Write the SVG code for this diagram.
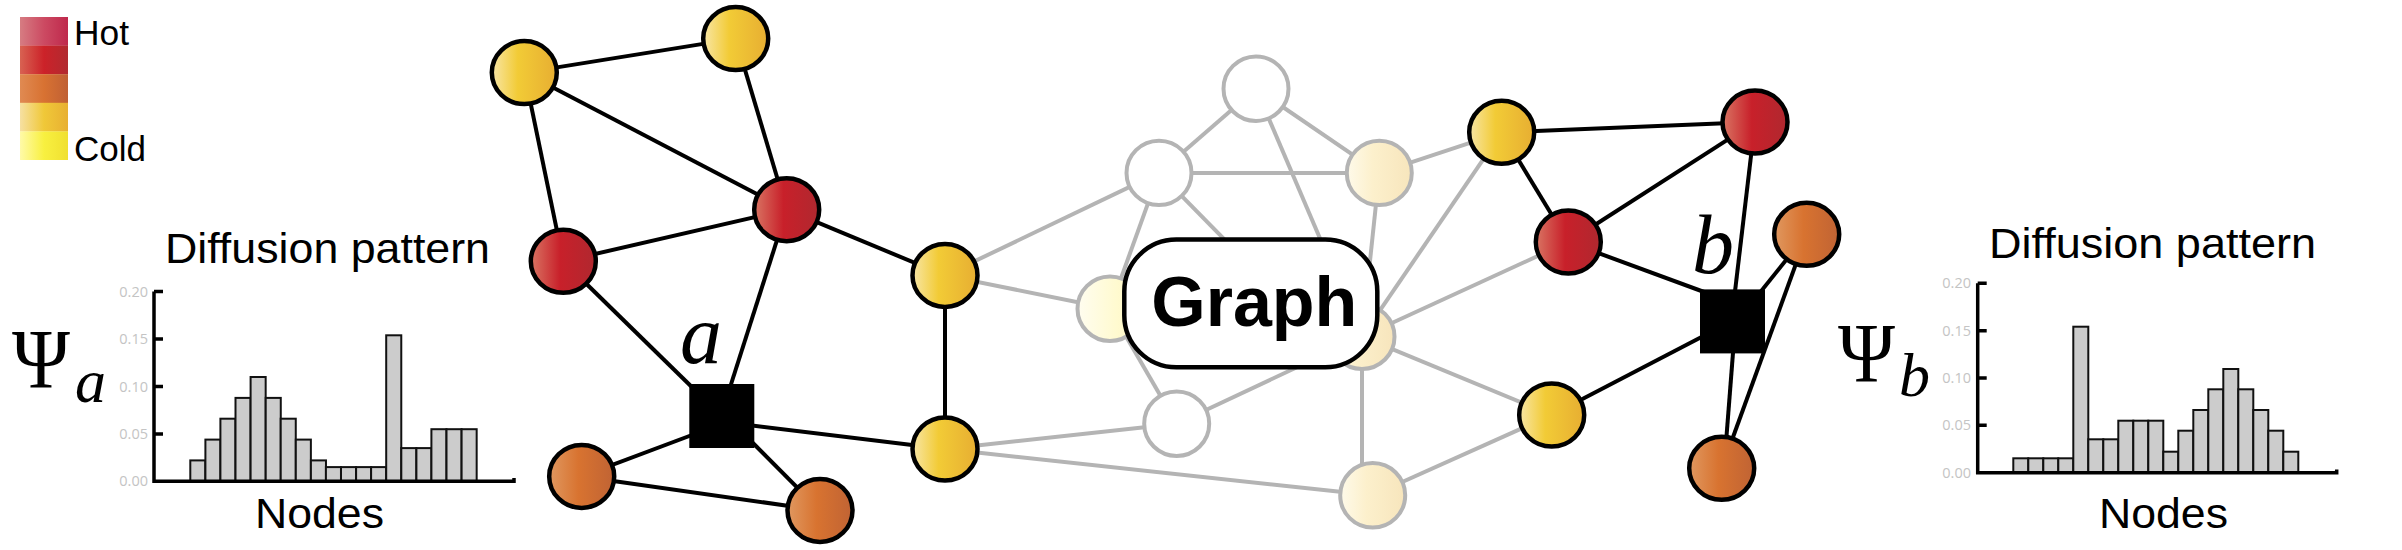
<svg xmlns="http://www.w3.org/2000/svg" width="2402" height="550" viewBox="0 0 2402 550">
<style>
.ge{stroke:#b4b4b4;stroke-width:4;fill:none}
.be{stroke:#000;stroke-width:4;fill:none}
.nd{stroke:#000;stroke-width:4.5}
.gn{stroke:#b4b4b4;stroke-width:4}
.bar{fill:#cccccc;stroke:#111;stroke-width:2}
.axis{fill:none;stroke:#000;stroke-width:3.5}
.tick{font-family:'Open Sans','Liberation Sans',sans-serif;font-size:14.5px;fill:#c4c4c4;text-anchor:end}
.sans{font-family:'Liberation Sans',Arial,sans-serif;fill:#000}
.serif{font-family:'Liberation Serif','Times New Roman',serif;fill:#000}
</style>
<defs>
<linearGradient id="gY" x1="0" x2="1" y1="0" y2="0"><stop offset="0" stop-color="#f8e6a6"/><stop offset="0.4" stop-color="#f2cb36"/><stop offset="1" stop-color="#e7ae32"/></linearGradient>
<linearGradient id="gR" x1="0" x2="1" y1="0" y2="0"><stop offset="0" stop-color="#d97563"/><stop offset="0.45" stop-color="#c8202a"/><stop offset="1" stop-color="#b0282f"/></linearGradient>
<linearGradient id="gO" x1="0" x2="1" y1="0" y2="0"><stop offset="0" stop-color="#e09860"/><stop offset="0.45" stop-color="#d87330"/><stop offset="1" stop-color="#c06334"/></linearGradient>
<linearGradient id="gC" x1="0" x2="1" y1="0" y2="0"><stop offset="0" stop-color="#fefaea"/><stop offset="0.4" stop-color="#fcf0cc"/><stop offset="1" stop-color="#f7e5bc"/></linearGradient>
<linearGradient id="gP" x1="0" x2="1" y1="0" y2="0"><stop offset="0" stop-color="#fffdf0"/><stop offset="0.6" stop-color="#fffad0"/><stop offset="1" stop-color="#fdf4c0"/></linearGradient>
<linearGradient id="l1" x1="0" x2="1" y1="0" y2="0"><stop offset="0" stop-color="#d67c82"/><stop offset="0.5" stop-color="#cc4a62"/><stop offset="1" stop-color="#bf284c"/></linearGradient>
<linearGradient id="l2" x1="0" x2="1" y1="0" y2="0"><stop offset="0" stop-color="#d86252"/><stop offset="0.5" stop-color="#cc2229"/><stop offset="1" stop-color="#b12a30"/></linearGradient>
<linearGradient id="l3" x1="0" x2="1" y1="0" y2="0"><stop offset="0" stop-color="#e08a52"/><stop offset="0.5" stop-color="#d87232"/><stop offset="1" stop-color="#c06034"/></linearGradient>
<linearGradient id="l4" x1="0" x2="1" y1="0" y2="0"><stop offset="0" stop-color="#f6e0a2"/><stop offset="0.5" stop-color="#f0c838"/><stop offset="1" stop-color="#e8b032"/></linearGradient>
<linearGradient id="l5" x1="0" x2="1" y1="0" y2="0"><stop offset="0" stop-color="#fffaa8"/><stop offset="0.5" stop-color="#f8f040"/><stop offset="1" stop-color="#f0e030"/></linearGradient>
</defs>

<g id="legend">
<rect x="20" y="17" width="48" height="28.8" fill="url(#l1)"/>
<rect x="20" y="45.6" width="48" height="28.8" fill="url(#l2)"/>
<rect x="20" y="74.2" width="48" height="28.8" fill="url(#l3)"/>
<rect x="20" y="102.8" width="48" height="28.8" fill="url(#l4)"/>
<rect x="20" y="131.4" width="48" height="28.6" fill="url(#l5)"/>
<text class="sans" x="74" y="45" font-size="35" textLength="55" lengthAdjust="spacingAndGlyphs">Hot</text>
<text class="sans" x="74" y="161" font-size="35" textLength="72" lengthAdjust="spacingAndGlyphs">Cold</text>
</g>

<g id="chart-a">
<text class="sans" x="165" y="262.5" font-size="42" textLength="325" lengthAdjust="spacingAndGlyphs">Diffusion pattern</text>
<text class="serif" x="12" y="388.3" font-size="84" textLength="58" lengthAdjust="spacingAndGlyphs">Ψ</text>
<text class="serif" x="75" y="402" font-size="62" font-style="italic">a</text>
<text class="tick" x="148" y="296.5">0.20</text>
<text class="tick" x="148" y="344">0.15</text>
<text class="tick" x="148" y="391.5">0.10</text>
<text class="tick" x="148" y="439">0.05</text>
<text class="tick" x="148" y="486.3">0.00</text>
<g>
<rect class="bar" x="190.3" y="460.4" width="15.07" height="20.9"/>
<rect class="bar" x="205.4" y="439.6" width="15.07" height="41.7"/>
<rect class="bar" x="220.4" y="418.7" width="15.07" height="62.6"/>
<rect class="bar" x="235.5" y="397.9" width="15.07" height="83.4"/>
<rect class="bar" x="250.6" y="377.0" width="15.07" height="104.3"/>
<rect class="bar" x="265.7" y="397.9" width="15.07" height="83.4"/>
<rect class="bar" x="280.7" y="418.7" width="15.07" height="62.6"/>
<rect class="bar" x="295.8" y="439.6" width="15.07" height="41.7"/>
<rect class="bar" x="310.9" y="460.4" width="15.07" height="20.9"/>
<rect class="bar" x="325.9" y="467.1" width="15.07" height="14.2"/>
<rect class="bar" x="341.0" y="467.1" width="15.07" height="14.2"/>
<rect class="bar" x="356.1" y="467.1" width="15.07" height="14.2"/>
<rect class="bar" x="371.1" y="467.1" width="15.07" height="14.2"/>
<rect class="bar" x="386.2" y="335.3" width="15.07" height="146"/>
<rect class="bar" x="401.3" y="448.1" width="15.07" height="33.2"/>
<rect class="bar" x="416.4" y="448.1" width="15.07" height="33.2"/>
<rect class="bar" x="431.4" y="429.2" width="15.07" height="52.1"/>
<rect class="bar" x="446.5" y="429.2" width="15.07" height="52.1"/>
<rect class="bar" x="461.6" y="429.2" width="15.07" height="52.1"/>
</g>
<path class="axis" d="M154,291.5 V481.3 H514 V478 M154,291.5 h9 M154,339 h9 M154,386.5 h9 M154,434 h9"/>
<text class="sans" x="255" y="528" font-size="42" textLength="129" lengthAdjust="spacingAndGlyphs">Nodes</text>
</g>

<g id="chart-b">
<text class="sans" x="1989" y="257.7" font-size="42" textLength="327" lengthAdjust="spacingAndGlyphs">Diffusion pattern</text>
<text class="serif" x="1838" y="382" font-size="84" textLength="57" lengthAdjust="spacingAndGlyphs">Ψ</text>
<text class="serif" x="1899" y="395.7" font-size="62" font-style="italic">b</text>
<text class="tick" x="1971" y="288.3">0.20</text>
<text class="tick" x="1971" y="335.7">0.15</text>
<text class="tick" x="1971" y="383">0.10</text>
<text class="tick" x="1971" y="430.3">0.05</text>
<text class="tick" x="1971" y="477.7">0.00</text>
<g>
<rect class="bar" x="2013.3" y="458.3" width="15" height="14.4"/>
<rect class="bar" x="2028.3" y="458.3" width="15" height="14.4"/>
<rect class="bar" x="2043.3" y="458.3" width="15" height="14.4"/>
<rect class="bar" x="2058.3" y="458.3" width="15" height="14.4"/>
<rect class="bar" x="2073.3" y="326.7" width="15" height="146"/>
<rect class="bar" x="2088.3" y="439.3" width="15" height="33.4"/>
<rect class="bar" x="2103.3" y="439.3" width="15" height="33.4"/>
<rect class="bar" x="2118.3" y="420.7" width="15" height="52"/>
<rect class="bar" x="2133.3" y="420.7" width="15" height="52"/>
<rect class="bar" x="2148.3" y="420.7" width="15" height="52"/>
<rect class="bar" x="2163.3" y="451.7" width="15" height="21"/>
<rect class="bar" x="2178.3" y="430.7" width="15" height="42"/>
<rect class="bar" x="2193.3" y="410" width="15" height="62.7"/>
<rect class="bar" x="2208.3" y="389.3" width="15" height="83.4"/>
<rect class="bar" x="2223.3" y="369" width="15" height="103.7"/>
<rect class="bar" x="2238.3" y="389.3" width="15" height="83.4"/>
<rect class="bar" x="2253.3" y="410" width="15" height="62.7"/>
<rect class="bar" x="2268.3" y="430.7" width="15" height="42"/>
<rect class="bar" x="2283.3" y="451.7" width="15" height="21"/>
</g>
<path class="axis" d="M1977.7,283.3 V472.7 H2336.7 V469.5 M1977.7,283.3 h9 M1977.7,330.7 h9 M1977.7,378 h9 M1977.7,425.3 h9"/>
<text class="sans" x="2099" y="528.3" font-size="42" textLength="129" lengthAdjust="spacingAndGlyphs">Nodes</text>
</g>

<g id="connectors">
<g class="ge">
<line x1="945" y1="275.4" x2="1159" y2="172.9"/>
<line x1="945" y1="275.4" x2="1110" y2="308.7"/>
<line x1="945" y1="449" x2="1176.7" y2="423.7"/>
<line x1="945" y1="449" x2="1372.7" y2="495.3"/>
<line x1="1256" y1="88.7" x2="1159" y2="172.9"/>
<line x1="1256" y1="88.7" x2="1379.3" y2="172.9"/>
<line x1="1256" y1="88.7" x2="1362" y2="336.7"/>
<line x1="1159" y1="172.9" x2="1379.3" y2="172.9"/>
<line x1="1159" y1="172.9" x2="1110" y2="308.7"/>
<line x1="1159" y1="172.9" x2="1320" y2="336.7"/>
<line x1="1379.3" y1="172.9" x2="1362" y2="336.7"/>
<line x1="1110" y1="308.7" x2="1176.7" y2="423.7"/>
<line x1="1176.7" y1="423.7" x2="1362" y2="336.7"/>
<line x1="1362" y1="336.7" x2="1362" y2="480"/>
<line x1="1362" y1="336.7" x2="1501.7" y2="132.3"/>
<line x1="1362" y1="336.7" x2="1568.3" y2="242"/>
<line x1="1362" y1="336.7" x2="1551.7" y2="415"/>
<line x1="1372.7" y1="495.3" x2="1551.7" y2="415"/>
<line x1="1379.3" y1="172.9" x2="1501.7" y2="132.3"/>
</g>
<g class="be">
<line x1="524.3" y1="72.6" x2="735.7" y2="38.6"/>
<line x1="524.3" y1="72.6" x2="786.7" y2="209.7"/>
<line x1="524.3" y1="72.6" x2="563.3" y2="261.3"/>
<line x1="735.7" y1="38.6" x2="786.7" y2="209.7"/>
<line x1="786.7" y1="209.7" x2="563.3" y2="261.3"/>
<line x1="786.7" y1="209.7" x2="945" y2="275.4"/>
<line x1="786.7" y1="209.7" x2="726" y2="400"/>
<line x1="563.3" y1="261.3" x2="700" y2="395"/>
<line x1="945" y1="275.4" x2="945" y2="449"/>
<line x1="740" y1="424" x2="945" y2="449"/>
<line x1="700" y1="432" x2="581.7" y2="476.4"/>
<line x1="740" y1="430" x2="820" y2="510.4"/>
<line x1="581.7" y1="476.4" x2="820" y2="510.4"/>
<line x1="1501.7" y1="132.3" x2="1755" y2="122.1"/>
<line x1="1501.7" y1="132.3" x2="1568.3" y2="242"/>
<line x1="1755" y1="122.1" x2="1568.3" y2="242"/>
<line x1="1755" y1="122.1" x2="1734" y2="300"/>
<line x1="1568.3" y1="242" x2="1715" y2="296"/>
<line x1="1806.7" y1="234.3" x2="1750" y2="305"/>
<line x1="1806.7" y1="234.3" x2="1721.7" y2="468.3"/>
<line x1="1734" y1="340" x2="1724" y2="468.3"/>
<line x1="1715" y1="330" x2="1551.7" y2="415"/>
</g>
</g>

<g id="node-I"><ellipse class="gn" cx="1256" cy="88.7" rx="32.5" ry="32.2" fill="#fff"/></g>
<g id="node-J"><ellipse class="gn" cx="1159" cy="172.9" rx="32.5" ry="32.2" fill="#fff"/></g>
<g id="node-K"><ellipse class="gn" cx="1379.3" cy="172.9" rx="32.5" ry="32.2" fill="url(#gC)"/></g>
<g id="node-L"><ellipse class="gn" cx="1110" cy="308.7" rx="32.5" ry="32.2" fill="url(#gP)"/></g>
<g id="node-M"><ellipse class="gn" cx="1362" cy="336.7" rx="32.5" ry="32.2" fill="url(#gC)"/></g>
<g id="node-N"><ellipse class="gn" cx="1176.7" cy="423.7" rx="32.5" ry="32.2" fill="#fff"/></g>
<g id="node-O"><ellipse class="gn" cx="1372.7" cy="495.3" rx="32.5" ry="32.2" fill="url(#gC)"/></g>

<g id="graph-label">
<rect x="1124.3" y="239.5" width="253" height="127.7" rx="52" ry="52" fill="#fff" stroke="#000" stroke-width="4.5"/>
<text class="sans" x="1254.3" y="326" font-size="70" font-weight="bold" text-anchor="middle">Graph</text>
</g>

<g id="node-A"><ellipse class="nd" cx="524.3" cy="72.6" rx="32.5" ry="31.5" fill="url(#gY)"/></g>
<g id="node-B"><ellipse class="nd" cx="735.7" cy="38.6" rx="32.5" ry="31.5" fill="url(#gY)"/></g>
<g id="node-C"><ellipse class="nd" cx="786.7" cy="209.7" rx="32.5" ry="31.5" fill="url(#gR)"/></g>
<g id="node-D"><ellipse class="nd" cx="563.3" cy="261.3" rx="32.5" ry="31.5" fill="url(#gR)"/></g>
<g id="node-E"><ellipse class="nd" cx="945" cy="275.4" rx="32.5" ry="31.5" fill="url(#gY)"/></g>
<g id="node-F"><ellipse class="nd" cx="945" cy="449" rx="32.5" ry="31.5" fill="url(#gY)"/></g>
<g id="node-G"><ellipse class="nd" cx="581.7" cy="476.4" rx="32.5" ry="31.5" fill="url(#gO)"/></g>
<g id="node-H"><ellipse class="nd" cx="820" cy="510.4" rx="32.5" ry="31.5" fill="url(#gO)"/></g>
<g id="node-a"><rect x="689.3" y="384" width="65" height="64" fill="#000"/><text class="serif" x="680" y="363" font-size="84" font-style="italic">a</text></g>

<g id="node-P"><ellipse class="nd" cx="1501.7" cy="132.3" rx="32.5" ry="31.5" fill="url(#gY)"/></g>
<g id="node-Q"><ellipse class="nd" cx="1755" cy="122.1" rx="32.5" ry="31.5" fill="url(#gR)"/></g>
<g id="node-S"><ellipse class="nd" cx="1568.3" cy="242" rx="32.5" ry="31.5" fill="url(#gR)"/></g>
<g id="node-T"><ellipse class="nd" cx="1806.7" cy="234.3" rx="32.5" ry="31.5" fill="url(#gO)"/></g>
<g id="node-R"><ellipse class="nd" cx="1551.7" cy="415" rx="32.5" ry="31.5" fill="url(#gY)"/></g>
<g id="node-U"><ellipse class="nd" cx="1721.7" cy="468.3" rx="32.5" ry="31.5" fill="url(#gO)"/></g>
<g id="node-b"><rect x="1700" y="289.4" width="65" height="64" fill="#000"/><text class="serif" x="1692" y="273" font-size="84" font-style="italic">b</text></g>
</svg>
